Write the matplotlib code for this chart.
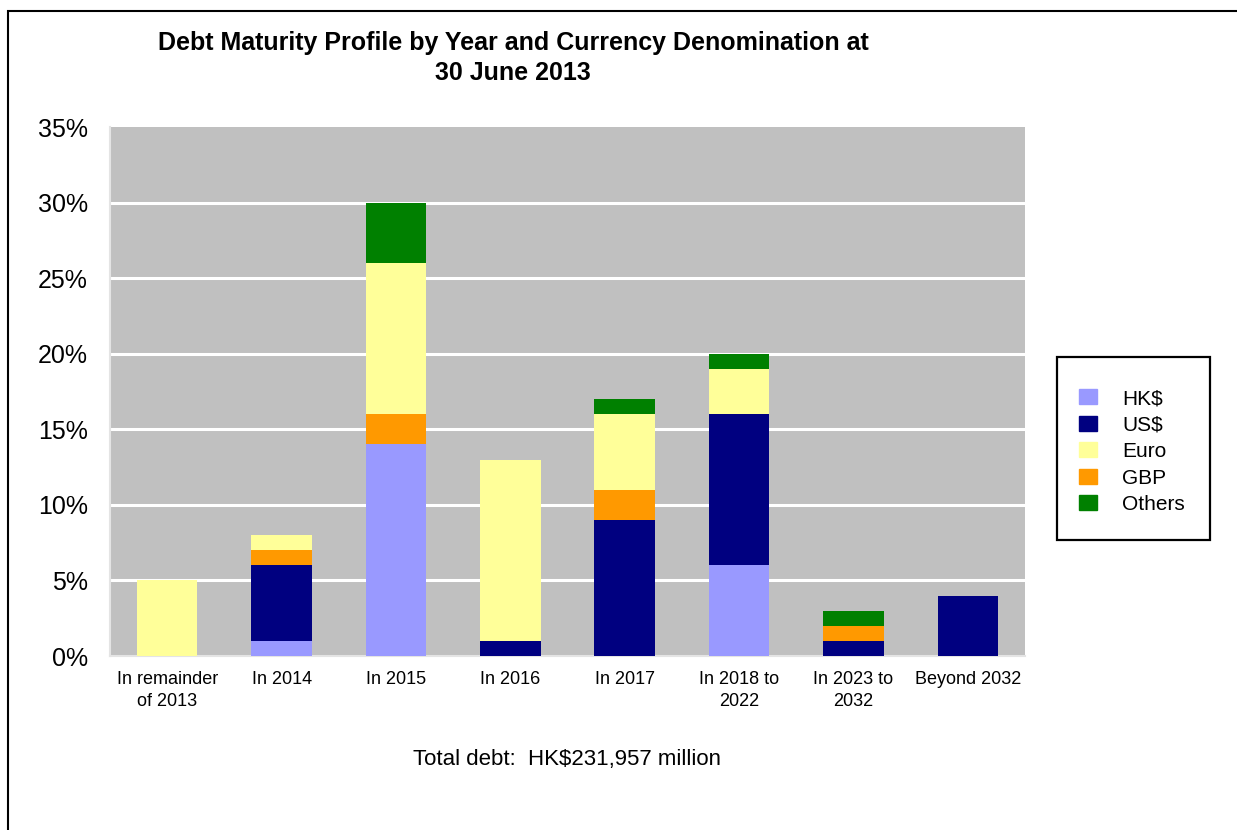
import matplotlib.pyplot as plt
import numpy as np
from matplotlib.patches import Rectangle, Patch

plt.rcParams['font.family'] = ['Liberation Sans', 'DejaVu Sans']

# categories and shares of total debt (%)
categories = ['In remainder\nof 2013', 'In 2014', 'In 2015', 'In 2016', 'In 2017',
              'In 2018 to\n2022', 'In 2023 to\n2032', 'Beyond 2032']
hkd = [0, 1, 14, 0, 0, 6, 0, 0]
usd = [0, 5, 0, 1, 9, 10, 1, 4]
gbp = [0, 1, 2, 0, 2, 0, 1, 0]
euro = [5, 1, 10, 12, 5, 3, 0, 0]
others = [0, 0, 4, 0, 1, 1, 1, 0]

colors = {'HK$': '#9999FF', 'US$': '#000080', 'Euro': '#FFFF99',
          'GBP': '#FF9900', 'Others': '#008000'}

fig = plt.figure(figsize=(12.37, 8.30), dpi=100)
ax = fig.add_axes([110 / 1237, 1 - 656 / 830, 915 / 1237, 529 / 830])
ax.set_facecolor('#C0C0C0')

x = np.arange(len(categories))
w = 0.53
bottom = np.zeros(len(categories))
# stacking order differs from legend order
for name, vals in [('HK$', hkd), ('US$', usd), ('GBP', gbp), ('Euro', euro), ('Others', others)]:
    vals = np.array(vals, dtype=float)
    ax.bar(x, vals, w, bottom=bottom, color=colors[name], zorder=3)
    bottom += vals

ax.set_xlim(-0.5, len(categories) - 0.5)
ax.set_ylim(0, 35)
ax.set_yticks(range(0, 36, 5))
ax.set_yticklabels(['%d%%' % v for v in range(0, 36, 5)], fontsize=18)
ax.set_xticks(x)
ax.set_xticklabels(categories, fontsize=13, linespacing=1.43)
ax.tick_params(axis='y', length=0, pad=16)
ax.tick_params(axis='x', length=0, pad=10.5)
for yv in range(5, 35, 5):
    ax.axhline(yv, color='white', linewidth=2.2, zorder=1)
for s in ['top', 'right']:
    ax.spines[s].set_visible(False)
for s in ['left', 'bottom']:
    ax.spines[s].set_color('#E4E4E4')
    ax.spines[s].set_linewidth(1.5)

fig.text(513 / 1237, 1 - 58 / 830,
         'Debt Maturity Profile by Year and Currency Denomination at\n30 June 2013',
         ha='center', va='center', fontsize=18, fontweight='bold', linespacing=1.27)
fig.text(567 / 1237, 1 - 760 / 830, 'Total debt:  HK$231,957 million',
         ha='center', va='center', fontsize=16)

names = ['HK$', 'US$', 'Euro', 'GBP', 'Others']
handles = [Patch(color=colors[n]) for n in names]
leg = fig.legend(handles, names,
                 loc='upper left', bbox_to_anchor=(1079 / 1237, 1 - 389 / 830),
                 fontsize=15, frameon=False, borderpad=0,
                 labelspacing=0.36, handlelength=0.86, handleheight=0.72,
                 handletextpad=1.2, borderaxespad=0)
# legend box
fig.patches.append(Rectangle((1057 / 1237, 1 - 540 / 830), 153 / 1237, 183 / 830,
                             transform=fig.transFigure, fill=False,
                             edgecolor='black', linewidth=1.6))

# outer frame of the chart area
fig.patches.append(Rectangle((8 / 1237, -0.05), 1.2, 1 - 11 / 830 + 0.05,
                             transform=fig.transFigure, fill=False,
                             edgecolor='black', linewidth=1.5))

fig.savefig('out.png', dpi=100)
